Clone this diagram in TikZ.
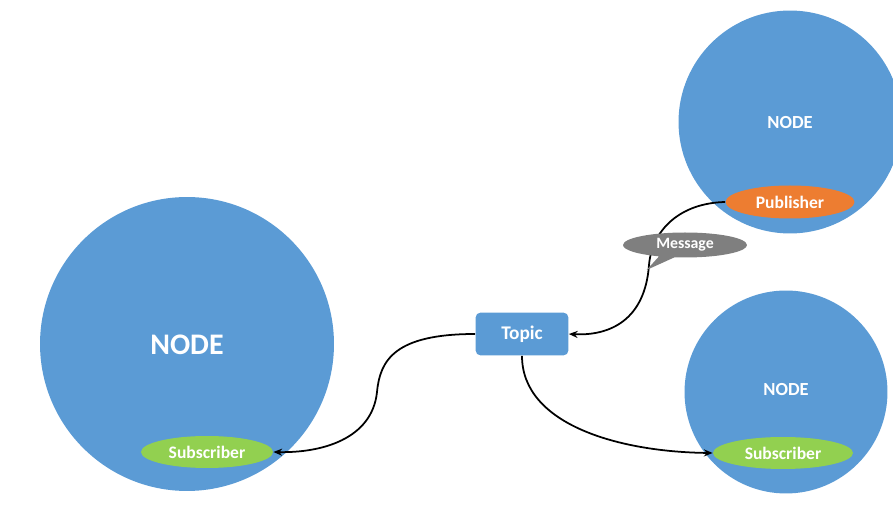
\documentclass[tikz,border=0pt]{standalone}
\usepackage{fontspec}
\setmainfont{Carlito}
\usetikzlibrary{arrows.meta}
\usetikzlibrary{shapes.geometric, shapes.callouts}

\definecolor{nodeblue}{HTML}{5B9BD5}
\definecolor{puborange}{HTML}{ED7D31}
\definecolor{subgreen}{HTML}{92D050}
\definecolor{msggray}{HTML}{7F7F7F}

\tikzset{
  rosnode/.style={circle, fill=nodeblue, text=white, font=\bfseries, inner sep=0pt},
  port/.style={ellipse, text=white, inner sep=0pt, minimum height=0.64cm,
    font=\bfseries\fontsize{10}{12}\selectfont},
  link/.style={-{Stealth[length=5pt,width=4pt]}, line width=1pt},
}

\begin{document}
\begin{tikzpicture}[x=0.02cm, y=-0.02cm]
\useasboundingbox (0,0) rectangle (893,526);
\clip (0,0) rectangle (893,526);
% the three nodes
\node[rosnode, minimum size=5.88cm, font=\bfseries\fontsize{17}{20}\selectfont] (bignode) at (187,344) {};
\node[text=white, font=\bfseries\fontsize{17}{20}\selectfont] (bignodelabel) at (187,345) {NODE};
\node[rosnode, minimum size=4.46cm] (pubnode) at (790,122) {};
\node[text=white, font=\bfseries\fontsize{10.5}{12}\selectfont] (pubnodelabel) at (790,123) {NODE};
\node[rosnode, minimum size=4.06cm] (subnode) at (786,392) {};
\node[text=white, font=\bfseries\fontsize{10.5}{12}\selectfont] (subnodelabel) at (786,390) {NODE};

\node[port, fill=subgreen, minimum width=2.64cm] (subleft) at (207,452) {Subscriber};
\node[port, fill=puborange, minimum width=2.58cm, minimum height=0.66cm] (pub) at (790,202) {Publisher};
\node[port, fill=subgreen, minimum width=2.8cm] (subright) at (783,453) {Subscriber};

\node[rectangle, rounded corners=3pt, fill=nodeblue, text=white, minimum width=1.86cm,
  minimum height=0.86cm, font=\bfseries\fontsize{11}{13}\selectfont] (topic) at (522,334) {Topic};

% connectors
\draw[link] (pub.west) .. controls (680,203) and (652,230) .. (649,265)
  .. controls (645,320) and (610,336) .. (topic.east);
\draw[link] (topic.west) .. controls (395,334) and (380,360) .. (377,392)
  .. controls (372,440) and (320,453) .. (subleft.east);
\draw[link] (topic.south) .. controls (522,425) and (620,452) .. (subright.west);

\node[ellipse callout, fill=msggray, text=white, inner sep=0pt, minimum width=2.48cm,
  minimum height=0.5cm, callout relative pointer={(-0.4cm,-0.26cm)},
  font=\bfseries\fontsize{9}{11}\selectfont] (msg) at (685,245) {Message};
\end{tikzpicture}
\end{document}
